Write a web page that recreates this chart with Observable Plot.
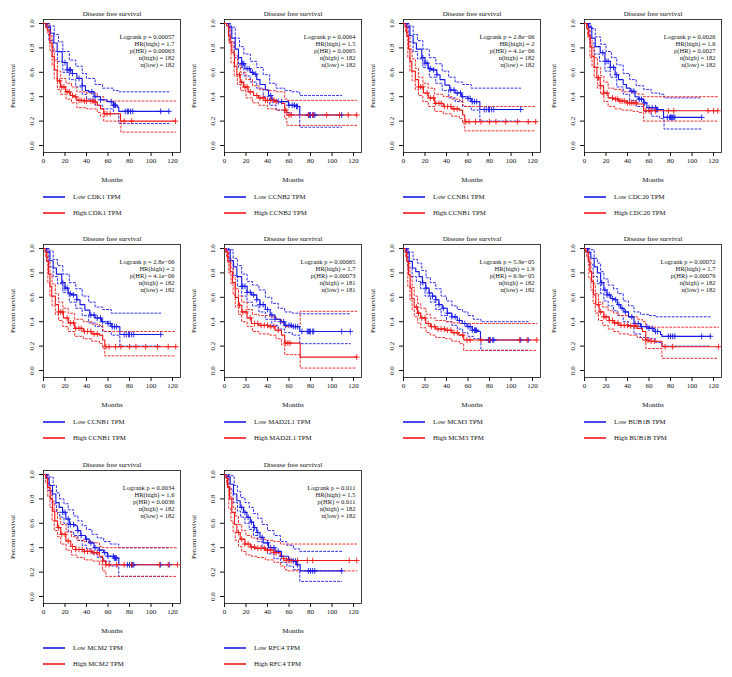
<!DOCTYPE html>
<html><head><meta charset="utf-8">
<script src="https://cdn.jsdelivr.net/npm/d3@7"></script>
<script src="https://cdn.jsdelivr.net/npm/@observablehq/plot@0.6"></script>
<style>
html,body{margin:0;padding:0;background:#fff;}
#root{position:relative;width:732px;height:677px;background:#fff;overflow:hidden;font-family:"Liberation Serif","DejaVu Serif",serif;}
.panel{position:absolute;width:185px;height:225px;}
.panel svg{position:absolute;left:0;top:0;}
</style></head><body><div id="root"></div>
<script>
// ---------- panel texts ----------
const panelGenes = ["CDK1","CCNB2","CCNB1","CDC20","CCNB1","MAD2L1","MCM3","BUB1B","MCM2","RFC4"];
const logrankP = ["0.00057","0.0064","2.8e\u221206","0.0026","2.8e\u221206","0.00065","5.9e\u221205","0.00072","0.0034","0.011"];
const hrHigh = ["1.7","1.5","2","1.6","2","1.7","1.9","1.7","1.6","1.5"];
const pHR = ["0.00063","0.0065","4.1e\u221206","0.0027","4.1e\u221206","0.00073","6.9e\u221205","0.00079","0.0036","0.011"];
const nHigh = [182,182,182,182,182,181,182,182,182,182];
const nLow = [182,182,182,182,182,181,182,182,182,182];
const xTicks = [0,20,40,60,80,100,120];
const yTicks = [0,0.2,0.4,0.6,0.8,1.0];

// ---------- CDK1 ----------
const cdk1Low = [[0,1],[3,0.97],[6.5,0.92],[9.6,0.84],[12.7,0.77],[17.4,0.68],[22,0.62],[26.7,0.59],[31,0.55],[36,0.49],[39,0.45],[42,0.44],[47,0.40],[53,0.375],[59,0.36],[65,0.33],[68.5,0.315],[70,0.28],[116.6,0.28]];
const cdk1High = [[0,1],[2,0.97],[3.4,0.945],[5.9,0.84],[8,0.73],[10,0.62],[12.7,0.53],[15.8,0.48],[20.5,0.44],[25,0.41],[28,0.40],[31,0.37],[37.5,0.365],[47,0.355],[50,0.33],[53,0.30],[56,0.26],[71.6,0.20],[122.8,0.20]];
const cdk1LowUp = [[0,1],[6,0.98],[10,0.91],[14,0.85],[18,0.77],[24,0.70],[30,0.65],[36,0.59],[40,0.55],[48,0.50],[55,0.47],[65,0.45],[70,0.44],[116.6,0.44]];
const cdk1LowLo = [[0,1],[5,0.86],[9,0.77],[13,0.69],[18,0.60],[24,0.54],[30,0.48],[36,0.42],[40,0.38],[48,0.33],[55,0.30],[65,0.26],[70,0.18],[116.6,0.18]];
const cdk1HighUp = [[0,1],[4,0.98],[6,0.90],[8,0.80],[10,0.70],[13,0.61],[16,0.55],[21,0.51],[26,0.48],[31,0.44],[40,0.43],[50,0.40],[56,0.365],[122.8,0.365]];
const cdk1HighLo = [[0,1],[4,0.91],[6,0.78],[8,0.66],[10,0.55],[13,0.46],[16,0.42],[21,0.38],[26,0.35],[31,0.31],[40,0.30],[50,0.27],[53,0.24],[56,0.20],[72,0.11],[122.8,0.11]];
const cdk1LowCens = [20,22,24,25,27,33,36,45,48,53,63,65,66,67,76,78,79,81,83,109,116.6];
const cdk1HighCens = [15,17,19,22,24,27,30,33,35,38,40,44,46,48,57,59,62,75,82,122.8];

// ---------- CCNB2 ----------
const ccnb2Low = [[0,1],[3.7,0.97],[6.8,0.88],[10,0.79],[13,0.72],[16,0.67],[19,0.63],[24,0.60],[27,0.585],[30,0.54],[33,0.50],[38,0.455],[41,0.41],[44,0.37],[49,0.36],[59.5,0.33],[67,0.32],[70,0.25],[109,0.25]];
const ccnb2High = [[0,1],[2,0.98],[3.7,0.90],[5.3,0.84],[6.8,0.76],[9.3,0.65],[11.5,0.58],[14.6,0.52],[17.7,0.48],[22,0.44],[27,0.41],[31.6,0.39],[38,0.37],[47,0.36],[53,0.345],[56,0.29],[58,0.25],[123,0.25]];
const ccnb2LowUp = [[0,1],[6,0.97],[10,0.88],[14,0.81],[18,0.75],[24,0.69],[30,0.64],[36,0.58],[42,0.51],[48,0.47],[56,0.45],[62,0.44],[70,0.41],[109,0.41]];
const ccnb2LowLo = [[0,1],[5,0.85],[9,0.72],[13,0.64],[18,0.57],[24,0.52],[30,0.47],[36,0.40],[42,0.33],[48,0.29],[56,0.27],[62,0.25],[70,0.15],[109,0.15]];
const ccnb2HighUp = [[0,1],[4,0.96],[6,0.85],[9,0.74],[12,0.66],[15,0.60],[20,0.54],[26,0.49],[32,0.46],[40,0.45],[48,0.44],[56,0.38],[58,0.37],[123,0.37]];
const ccnb2HighLo = [[0,1],[4,0.84],[6,0.68],[9,0.57],[12,0.50],[15,0.45],[20,0.39],[26,0.35],[32,0.33],[40,0.30],[48,0.29],[56,0.22],[58,0.165],[123,0.165]];
const ccnb2LowCens = [16,17,18,21,23,26,29,43,45,50,53,60,63,65,67,68,78,79,80,82,83,84,109];
const ccnb2HighCens = [14,16,19,21,24,30,33,36,38,40,43,46,48,57,60,62,78,82,95,107,115,123];

// ---------- CCNB1 ----------
const ccnb1Low = [[0,1],[3,0.97],[6,0.90],[9,0.84],[12,0.79],[17,0.72],[20,0.675],[23,0.63],[26,0.62],[31,0.58],[34,0.54],[38.5,0.495],[43,0.455],[48,0.43],[54,0.40],[60,0.385],[63,0.36],[71,0.295],[109,0.295]];
const ccnb1High = [[0,1],[1.5,0.97],[3,0.895],[4.6,0.79],[6,0.69],[7.7,0.61],[11,0.54],[14,0.48],[18.5,0.43],[23,0.39],[29,0.345],[37,0.32],[45,0.30],[52,0.29],[55,0.25],[57,0.195],[123,0.195]];
const ccnb1LowUp = [[0,1],[5,0.98],[9,0.91],[13,0.86],[18,0.79],[24,0.72],[30,0.67],[36,0.61],[42,0.56],[48,0.52],[55,0.50],[63,0.47],[109,0.47]];
const ccnb1LowLo = [[0,1],[5,0.85],[9,0.77],[13,0.71],[18,0.64],[24,0.56],[30,0.51],[36,0.45],[42,0.39],[48,0.36],[55,0.32],[63,0.29],[71,0.20],[109,0.20]];
const ccnb1HighUp = [[0,1],[2,0.99],[4,0.90],[6,0.79],[8,0.71],[11,0.63],[14,0.56],[18,0.51],[23,0.47],[29,0.42],[37,0.40],[45,0.38],[52,0.37],[55,0.33],[57,0.32],[123,0.32]];
const ccnb1HighLo = [[0,1],[2,0.93],[4,0.72],[6,0.61],[8,0.53],[11,0.46],[14,0.41],[18,0.36],[23,0.32],[29,0.28],[37,0.26],[45,0.24],[52,0.22],[55,0.18],[57,0.12],[123,0.12]];
const ccnb1LowCens = [18,20,22,25,28,31,44,47,50,53,55,60,62,64,66,68,75,77,79,80,82,84,109];
const ccnb1HighCens = [14,16,18,22,25,28,30,33,35,38,41,44,47,50,58,61,67,72,80,86,95,106,116,123];

// ---------- CDC20 ----------
const cdc20Low = [[0,1],[3.7,0.97],[6.8,0.88],[10,0.81],[14.6,0.76],[19,0.69],[24,0.64],[28.5,0.58],[31.6,0.54],[36,0.50],[39,0.47],[42.5,0.445],[47,0.40],[50,0.38],[55,0.35],[58,0.31],[67,0.295],[73.5,0.23],[109,0.23]];
const cdc20High = [[0,1],[2,0.96],[3.7,0.90],[5.3,0.81],[6.8,0.73],[9,0.64],[11.5,0.555],[14.6,0.49],[17.7,0.43],[22,0.39],[27,0.38],[31.6,0.365],[39,0.35],[48.7,0.34],[55,0.285],[124,0.285]];
const cdc20LowUp = [[0,1],[6,0.96],[10,0.89],[15,0.83],[20,0.77],[25,0.72],[30,0.66],[36,0.59],[42,0.54],[48,0.49],[55,0.46],[62,0.43],[70,0.42],[74,0.39],[109,0.39]];
const cdc20LowLo = [[0,1],[5,0.84],[9,0.75],[14,0.69],[19,0.61],[24,0.56],[30,0.48],[36,0.42],[42,0.37],[48,0.32],[55,0.28],[62,0.24],[70,0.22],[74,0.135],[109,0.135]];
const cdc20HighUp = [[0,1],[3,0.98],[5,0.88],[7,0.80],[9,0.72],[12,0.64],[15,0.57],[18,0.52],[22,0.47],[28,0.46],[35,0.44],[45,0.43],[50,0.42],[55,0.40],[124,0.40]];
const cdc20HighLo = [[0,1],[3,0.89],[5,0.72],[7,0.65],[9,0.56],[12,0.47],[15,0.42],[18,0.36],[22,0.32],[28,0.30],[35,0.29],[45,0.28],[50,0.27],[55,0.20],[124,0.20]];
const cdc20LowCens = [17,20,22,24,27,30,44,46,51,53,56,60,63,66,67,68,77,79,80,81,82,83,84,109];
const cdc20HighCens = [13,15,18,21,26,29,31,33,35,37,40,42,44,46,48,57,60,62,66,78,83,115,120,124];

// ---------- MAD2L1 ----------
const mad2l1Low = [[0,1],[2,0.99],[5.3,0.90],[8.4,0.85],[11.5,0.77],[16,0.69],[21,0.64],[25,0.62],[30,0.58],[33,0.54],[38,0.50],[42.5,0.455],[47,0.42],[52,0.40],[56,0.37],[62.6,0.36],[70,0.32],[117,0.32]];
const mad2l1High = [[0,1],[1.2,0.97],[3,0.89],[5.3,0.81],[7.4,0.72],[10,0.60],[13,0.535],[16,0.48],[21,0.43],[25,0.385],[31.6,0.37],[41,0.36],[47,0.33],[53,0.29],[56,0.225],[70.4,0.11],[123,0.11]];
const mad2l1LowUp = [[0,1],[4,0.99],[8,0.92],[12,0.86],[16,0.79],[21,0.73],[26,0.70],[32,0.66],[38,0.60],[44,0.55],[50,0.51],[56,0.48],[63,0.47],[70,0.465],[117,0.465]];
const mad2l1LowLo = [[0,1],[4,0.90],[8,0.78],[12,0.69],[16,0.61],[21,0.56],[26,0.53],[32,0.48],[38,0.42],[44,0.37],[50,0.34],[56,0.31],[63,0.29],[70,0.22],[117,0.22]];
const mad2l1HighUp = [[0,1],[2,0.98],[4,0.92],[6,0.84],[8,0.76],[10,0.67],[13,0.61],[16,0.56],[21,0.50],[26,0.46],[32,0.45],[42,0.44],[48,0.42],[53,0.39],[56,0.36],[70.4,0.485],[123,0.485]];
const mad2l1HighLo = [[0,1],[2,0.93],[4,0.80],[6,0.71],[8,0.62],[10,0.52],[13,0.46],[16,0.40],[21,0.36],[26,0.32],[32,0.30],[42,0.29],[48,0.26],[53,0.21],[56,0.13],[70.4,0.02],[123,0.02]];
const mad2l1LowCens = [17,19,21,24,27,30,33,36,40,44,47,52,55,57,60,62,64,66,68,72,77,78,79,80,82,83,109,117];
const mad2l1HighCens = [14,17,20,24,28,31,34,37,40,43,46,50,57,59,61,123];

// ---------- MCM3 ----------
const mcm3Low = [[0,1],[2.8,0.97],[5.3,0.895],[8.3,0.84],[11.4,0.81],[14.5,0.77],[17.6,0.72],[20.7,0.675],[23.8,0.635],[27,0.61],[30,0.58],[33,0.54],[36,0.51],[40.7,0.47],[45,0.44],[50,0.41],[54.6,0.385],[59,0.36],[64,0.33],[68.5,0.32],[71.6,0.25],[116,0.25]];
const mcm3High = [[0,1],[1.5,0.97],[3,0.895],[4.6,0.785],[6.2,0.675],[7.7,0.59],[9.9,0.52],[13,0.47],[16,0.43],[20.7,0.385],[25,0.36],[30,0.34],[39,0.33],[45,0.31],[51.5,0.29],[56,0.25],[124,0.25]];
const mcm3LowUp = [[0,1],[5,0.97],[9,0.91],[13,0.88],[17,0.82],[21,0.76],[25,0.72],[30,0.67],[35,0.61],[40,0.57],[45,0.53],[50,0.50],[55,0.48],[60,0.45],[65,0.42],[72,0.40],[116,0.40]];
const mcm3LowLo = [[0,1],[4,0.84],[8,0.77],[12,0.73],[16,0.67],[20,0.61],[25,0.56],[30,0.50],[35,0.45],[40,0.40],[45,0.37],[50,0.34],[55,0.31],[60,0.28],[65,0.26],[72,0.165],[116,0.165]];
const mcm3HighUp = [[0,1],[2,0.99],[4,0.88],[6,0.77],[8,0.68],[10,0.61],[13,0.55],[16,0.51],[21,0.46],[25,0.43],[30,0.41],[39,0.40],[45,0.39],[52,0.385],[124,0.385]];
const mcm3HighLo = [[0,1],[2,0.93],[4,0.69],[6,0.58],[8,0.50],[10,0.44],[13,0.39],[16,0.35],[21,0.31],[25,0.29],[30,0.27],[39,0.26],[45,0.24],[52,0.22],[56,0.165],[124,0.165]];
const mcm3LowCens = [18,21,24,27,30,33,37,41,45,48,52,57,60,62,64,66,67,68,79,80,81,83,84,109,116];
const mcm3HighCens = [12,14,17,20,23,26,29,32,35,38,41,44,47,50,55,59,62,72,80,108,115,124];

// ---------- BUB1B ----------
const bub1bLow = [[0,1],[2.8,0.97],[5.9,0.92],[9,0.85],[12,0.80],[15,0.72],[18,0.66],[21,0.62],[24.4,0.59],[27.5,0.58],[30.5,0.54],[33.6,0.51],[36.7,0.48],[41,0.44],[46,0.385],[52,0.36],[60,0.345],[64.5,0.32],[70.7,0.295],[72,0.28],[117,0.28]];
const bub1bHigh = [[0,1],[1.2,0.97],[3.4,0.895],[5,0.81],[6.5,0.73],[8.3,0.62],[10.5,0.54],[13.6,0.48],[18,0.44],[23,0.41],[27.5,0.39],[32,0.37],[41,0.365],[49,0.345],[54,0.32],[57,0.25],[60,0.24],[72,0.195],[124.7,0.195]];
const bub1bLowUp = [[0,1],[5,0.99],[9,0.92],[12,0.88],[15,0.81],[18,0.75],[22,0.70],[27,0.67],[31,0.63],[36,0.57],[41,0.53],[46,0.48],[52,0.46],[60,0.45],[66,0.44],[117,0.44]];
const bub1bLowLo = [[0,1],[4,0.87],[8,0.77],[12,0.71],[15,0.63],[18,0.57],[22,0.53],[27,0.49],[31,0.45],[36,0.40],[41,0.36],[46,0.30],[52,0.27],[60,0.26],[66,0.23],[72,0.20],[117,0.20]];
const bub1bHighUp = [[0,1],[2,0.99],[4,0.91],[6,0.81],[8,0.71],[10,0.63],[13,0.56],[17,0.52],[22,0.49],[27,0.47],[32,0.45],[41,0.44],[49,0.42],[54,0.40],[57,0.355],[124.7,0.355]];
const bub1bHighLo = [[0,1],[2,0.93],[4,0.76],[6,0.66],[8,0.55],[10,0.47],[13,0.41],[17,0.37],[22,0.34],[27,0.32],[32,0.30],[41,0.29],[49,0.27],[54,0.25],[57,0.18],[72,0.10],[124.7,0.10]];
const bub1bLowCens = [16,19,21,23,26,29,32,35,38,44,47,50,53,58,60,63,66,68,78,80,82,84,109,117];
const bub1bHighCens = [13,15,18,20,23,26,28,31,34,37,40,43,46,48,57,59,62,65,75,82,124.7];

// ---------- MCM2 ----------
const mcm2Low = [[0,1],[3,0.97],[5.3,0.91],[8.4,0.84],[11.5,0.77],[14.6,0.73],[17.7,0.69],[20.8,0.635],[24,0.59],[28.5,0.58],[31.6,0.54],[34.7,0.50],[39,0.47],[42.5,0.44],[47,0.40],[51.8,0.38],[56,0.36],[59.5,0.33],[65.7,0.315],[70,0.26],[117,0.26]];
const mcm2High = [[0,1],[2,0.97],[3.7,0.895],[6.2,0.80],[8.4,0.70],[10.5,0.62],[13,0.565],[16,0.51],[20.8,0.455],[25.4,0.41],[30,0.385],[38,0.37],[45.6,0.36],[51.8,0.33],[55,0.29],[58,0.26],[124.6,0.26]];
const mcm2LowUp = [[0,1],[5,0.98],[9,0.91],[12,0.85],[15,0.80],[19,0.76],[23,0.71],[28,0.66],[32,0.62],[36,0.58],[40,0.55],[45,0.51],[50,0.48],[56,0.45],[62,0.43],[70,0.40],[117,0.40]];
const mcm2LowLo = [[0,1],[4,0.87],[8,0.76],[12,0.69],[15,0.65],[19,0.60],[23,0.53],[28,0.50],[32,0.46],[36,0.42],[40,0.39],[45,0.35],[50,0.32],[56,0.29],[62,0.25],[70,0.165],[117,0.165]];
const mcm2HighUp = [[0,1],[2,0.99],[4,0.93],[6,0.86],[8,0.78],[10,0.71],[13,0.64],[16,0.59],[21,0.53],[26,0.49],[31,0.46],[38,0.45],[46,0.44],[52,0.41],[55,0.40],[124.6,0.40]];
const mcm2HighLo = [[0,1],[2,0.93],[4,0.82],[6,0.73],[8,0.62],[10,0.54],[13,0.49],[16,0.43],[21,0.38],[26,0.34],[31,0.32],[38,0.30],[46,0.29],[52,0.26],[55,0.21],[58,0.165],[124.6,0.165]];
const mcm2LowCens = [18,20,23,25,28,32,35,40,44,48,52,57,60,65,66,67,68,78,80,82,83,84,109,117];
const mcm2HighCens = [14,17,20,23,27,30,33,36,38,41,44,47,50,55,58,61,68,75,82,108,116,124.6];

// ---------- RFC4 ----------
const rfc4Low = [[0,1],[2.2,0.98],[5.3,0.92],[8.4,0.84],[11.5,0.785],[14.6,0.73],[17.7,0.69],[20.8,0.65],[24,0.61],[27,0.565],[30,0.525],[33,0.485],[36,0.44],[41,0.40],[47,0.37],[53,0.33],[59.5,0.30],[64,0.29],[67,0.26],[70.4,0.21],[109,0.21]];
const rfc4High = [[0,1],[1.2,0.97],[2.8,0.895],[4.6,0.80],[6.8,0.69],[9.3,0.59],[11.5,0.525],[14.6,0.47],[19,0.43],[24,0.405],[28.5,0.395],[38,0.38],[45.6,0.36],[51.8,0.33],[55,0.31],[58,0.295],[123,0.295]];
const rfc4LowUp = [[0,1],[5,0.99],[9,0.91],[12,0.86],[15,0.81],[19,0.77],[23,0.73],[27,0.68],[31,0.64],[35,0.59],[40,0.54],[46,0.50],[52,0.45],[58,0.42],[64,0.39],[70,0.37],[109,0.37]];
const rfc4LowLo = [[0,1],[4,0.88],[8,0.77],[12,0.70],[15,0.65],[19,0.60],[23,0.55],[27,0.50],[31,0.45],[35,0.40],[40,0.35],[46,0.31],[52,0.28],[58,0.25],[64,0.22],[70,0.124],[109,0.124]];
const rfc4HighUp = [[0,1],[2,0.99],[4,0.90],[6,0.81],[8,0.73],[10,0.66],[13,0.59],[16,0.54],[20,0.50],[25,0.48],[30,0.47],[38,0.46],[46,0.45],[52,0.43],[123,0.43]];
const rfc4HighLo = [[0,1],[2,0.92],[4,0.72],[6,0.62],[8,0.53],[10,0.46],[13,0.41],[16,0.37],[20,0.34],[25,0.33],[30,0.32],[38,0.30],[46,0.28],[52,0.25],[56,0.22],[58,0.21],[123,0.21]];
const rfc4LowCens = [16,19,22,25,28,31,35,40,43,46,50,53,60,64,66,68,78,80,82,84,109];
const rfc4HighCens = [13,16,19,22,25,28,31,34,37,40,43,46,48,55,58,60,62,68,77,82,116,123];

// ---------- assemble ----------
const geneData = {
  CDK1:  [cdk1Low, cdk1High, cdk1LowUp, cdk1LowLo, cdk1HighUp, cdk1HighLo, cdk1LowCens, cdk1HighCens],
  CCNB2: [ccnb2Low, ccnb2High, ccnb2LowUp, ccnb2LowLo, ccnb2HighUp, ccnb2HighLo, ccnb2LowCens, ccnb2HighCens],
  CCNB1: [ccnb1Low, ccnb1High, ccnb1LowUp, ccnb1LowLo, ccnb1HighUp, ccnb1HighLo, ccnb1LowCens, ccnb1HighCens],
  CDC20: [cdc20Low, cdc20High, cdc20LowUp, cdc20LowLo, cdc20HighUp, cdc20HighLo, cdc20LowCens, cdc20HighCens],
  MAD2L1:[mad2l1Low, mad2l1High, mad2l1LowUp, mad2l1LowLo, mad2l1HighUp, mad2l1HighLo, mad2l1LowCens, mad2l1HighCens],
  MCM3:  [mcm3Low, mcm3High, mcm3LowUp, mcm3LowLo, mcm3HighUp, mcm3HighLo, mcm3LowCens, mcm3HighCens],
  BUB1B: [bub1bLow, bub1bHigh, bub1bLowUp, bub1bLowLo, bub1bHighUp, bub1bHighLo, bub1bLowCens, bub1bHighCens],
  MCM2:  [mcm2Low, mcm2High, mcm2LowUp, mcm2LowLo, mcm2HighUp, mcm2HighLo, mcm2LowCens, mcm2HighCens],
  RFC4:  [rfc4Low, rfc4High, rfc4LowUp, rfc4LowLo, rfc4HighUp, rfc4HighLo, rfc4LowCens, rfc4HighCens]
};

const BLUE = "#1a1ae8", RED = "#f01818";
const colLeft = [0, 181, 360, 541];
const rowTop = [0, 225, 451];
const FONT = "'Liberation Serif','DejaVu Serif',serif";
const SVGNS = "http://www.w3.org/2000/svg";

function stepAt(curve, t) {
  let s = curve[0][1];
  for (const [ti, si] of curve) { if (ti <= t) s = si; else break; }
  return s;
}
function stepLine(arr, color, dotted) {
  const o = {x: d => d[0], y: d => d[1], curve: "step-after", stroke: color,
             strokeWidth: dotted ? 0.9 : 1.15};
  if (dotted) o.strokeDasharray = "2,2";
  return Plot.line(arr, o);
}
function censor(times, curve, color) {
  return Plot.dot(times, {x: d => d, y: d => stepAt(curve, d), symbol: "plus", r: 2.0,
                          stroke: color, strokeWidth: 0.9});
}
function legendSvg(gene) {
  const s = document.createElementNS(SVGNS, "svg");
  s.setAttribute("width", 185); s.setAttribute("height", 40);
  s.style.top = "185px"; s.style.left = "0px";
  [["Low", BLUE, 12], ["High", RED, 28]].forEach(([lab, c, y]) => {
    const l = document.createElementNS(SVGNS, "line");
    l.setAttribute("x1", 43); l.setAttribute("x2", 65);
    l.setAttribute("y1", y); l.setAttribute("y2", y);
    l.setAttribute("stroke", c); l.setAttribute("stroke-width", 1.6);
    const t = document.createElementNS(SVGNS, "text");
    t.setAttribute("x", 73); t.setAttribute("y", y);
    t.setAttribute("dy", "0.33em");
    t.setAttribute("font-size", 6.8); t.setAttribute("font-family", FONT);
    t.setAttribute("fill", "#111");
    t.textContent = `${lab} ${gene} TPM`;
    s.appendChild(l); s.appendChild(t);
  });
  return s;
}

const root = document.getElementById("root");
panelGenes.forEach((gene, i) => {
  const col = i % 4, row = Math.floor(i / 4);
  const [low, high, lowUp, lowLo, highUp, highLo, lowC, highC] = geneData[gene];
  const stats = [`Logrank p = ${logrankP[i]}`, `HR(high) = ${hrHigh[i]}`, `p(HR) = ${pHR[i]}`,
                 `n(high) = ${nHigh[i]}`, `n(low) = ${nLow[i]}`].join("\n");
  const svg = Plot.plot({
    width: 185, height: 200,
    marginLeft: 43, marginRight: 5, marginTop: 19, marginBottom: 48,
    x: {domain: [0, 125], range: [43, 177.4]},
    y: {domain: [0, 1], range: [145, 23]},
    style: {background: "transparent", fontFamily: FONT, fontSize: "7px", color: "#111", overflow: "visible"},
    marks: [
      Plot.frame({stroke: "#111", strokeWidth: 0.8}),
      Plot.axisX({ticks: xTicks, tickSize: 4, tickPadding: 2, label: null, tickFormat: d => String(d)}),
      Plot.axisY({ticks: yTicks, tickSize: 4, tickFormat: () => "", label: null}),
      Plot.text(yTicks, {y: d => d, text: d => d.toFixed(1), frameAnchor: "left", dx: -12, rotate: -90, textAnchor: "middle"}),
      Plot.text(["Disease free survival"], {text: d => d, frameAnchor: "top", dy: -8}),
      Plot.text(["Percent survival"], {text: d => d, frameAnchor: "left", dx: -31, rotate: -90, textAnchor: "middle", fontSize: 6.8}),
      Plot.text(["Months"], {text: d => d, frameAnchor: "bottom", dy: 29}),
      Plot.text([stats], {text: d => d, frameAnchor: "top-right", dx: -6, dy: 14.5, lineAnchor: "top", lineHeight: 1.08, fontSize: 6.5}),
      stepLine(lowUp, BLUE, true), stepLine(lowLo, BLUE, true),
      stepLine(highUp, RED, true), stepLine(highLo, RED, true),
      stepLine(low, BLUE, false),
      stepLine(high, RED, false),
      censor(lowC, low, BLUE),
      censor(highC, high, RED)
    ]
  });
  const div = document.createElement("div");
  div.className = "panel";
  div.style.left = colLeft[col] + "px";
  div.style.top = rowTop[row] + "px";
  div.appendChild(svg);
  div.appendChild(legendSvg(gene));
  root.appendChild(div);
});
</script></body></html>
